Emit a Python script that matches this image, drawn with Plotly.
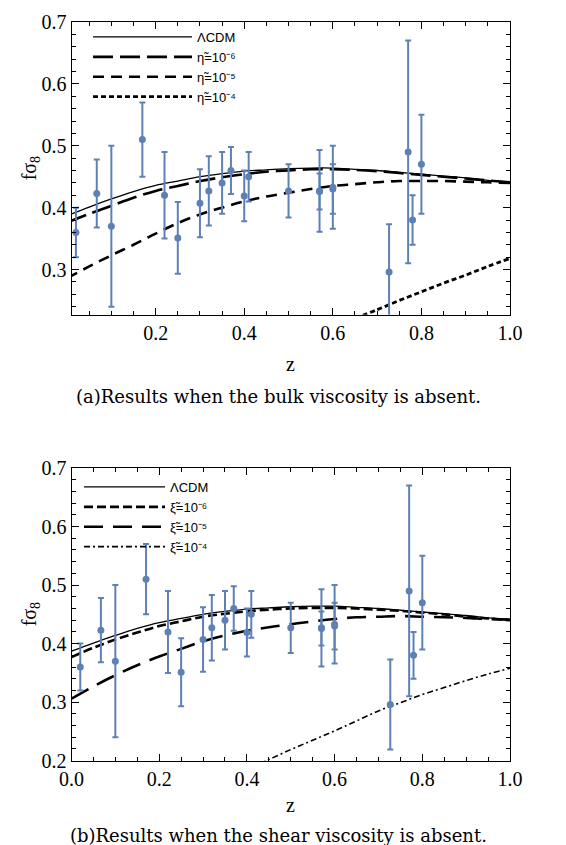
import plotly.graph_objects as go

# ---------------- data ----------------
obs_z = [0.02, 0.067, 0.10, 0.17, 0.22, 0.25, 0.30, 0.32, 0.35, 0.37, 0.40, 0.41,
         0.50, 0.57, 0.57, 0.60, 0.60, 0.727, 0.77, 0.78, 0.80]
obs_f = [0.360, 0.423, 0.370, 0.510, 0.420, 0.351, 0.407, 0.427, 0.440, 0.460, 0.419, 0.450,
         0.427, 0.427, 0.426, 0.433, 0.430, 0.296, 0.490, 0.380, 0.470]
obs_err = [0.040, 0.055, 0.130, 0.060, 0.070, 0.058, 0.055, 0.056, 0.050, 0.038, 0.041, 0.040,
           0.043, 0.066, 0.029, 0.067, 0.040, 0.077, 0.180, 0.040, 0.080]

z_grid = [0.0, 0.05, 0.10, 0.15, 0.20, 0.25, 0.30, 0.35, 0.40, 0.45, 0.50,
          0.55, 0.60, 0.65, 0.70, 0.75, 0.80, 0.85, 0.90, 0.95, 1.0]
lcdm = [0.387, 0.401, 0.414, 0.426, 0.436, 0.443, 0.450, 0.455, 0.459, 0.461, 0.463,
        0.464, 0.464, 0.462, 0.460, 0.457, 0.454, 0.451, 0.448, 0.444, 0.441]
# panel (a): shear viscosity eta
eta_1e6 = [0.376, 0.390, 0.403, 0.416, 0.427, 0.435, 0.443, 0.449, 0.454, 0.458, 0.460,
           0.462, 0.462, 0.461, 0.459, 0.456, 0.453, 0.450, 0.447, 0.444, 0.441]
eta_1e5 = [0.286, 0.305, 0.323, 0.340, 0.358, 0.375, 0.389, 0.400, 0.410, 0.418, 0.424,
           0.430, 0.435, 0.438, 0.441, 0.443, 0.443, 0.443, 0.442, 0.441, 0.440]
z_eta4 = [0.65, 0.70, 0.75, 0.80, 0.85, 0.90, 0.95, 1.0]
eta_1e4 = [0.221, 0.235, 0.250, 0.264, 0.278, 0.291, 0.305, 0.318]
# panel (b): bulk viscosity xi
xi_1e6 = [0.377, 0.393, 0.407, 0.419, 0.430, 0.438, 0.446, 0.451, 0.455, 0.458, 0.460,
          0.461, 0.461, 0.460, 0.458, 0.456, 0.453, 0.450, 0.446, 0.443, 0.440]
xi_1e5 = [0.306, 0.327, 0.346, 0.363, 0.378, 0.391, 0.404, 0.414, 0.422, 0.428, 0.433,
          0.438, 0.442, 0.445, 0.446, 0.447, 0.446, 0.445, 0.444, 0.442, 0.441]
z_xi4 = [0.40, 0.45, 0.50, 0.55, 0.60, 0.65, 0.70, 0.75, 0.80, 0.85, 0.90, 0.95, 1.0]
xi_1e4 = [0.185, 0.202, 0.219, 0.235, 0.251, 0.268, 0.285, 0.299, 0.313, 0.325, 0.337, 0.348, 0.358]

x_ticks_a = [0.2, 0.4, 0.6, 0.8, 1.0]
x_ticks_b = [0.0, 0.2, 0.4, 0.6, 0.8, 1.0]
y_ticks_a = [0.3, 0.4, 0.5, 0.6, 0.7]
y_ticks_b = [0.2, 0.3, 0.4, 0.5, 0.6, 0.7]

legend_a = ["ΛCDM", "η\u0303=10⁻⁶", "η\u0303=10⁻⁵", "η\u0303=10⁻⁴"]
legend_b = ["ΛCDM", "ξ\u0303=10⁻⁶", "ξ\u0303=10⁻⁵", "ξ\u0303=10⁻⁴"]

# ---------------- styling ----------------
PT = "#5E81B5"
W, H = 566, 845


def px(x):
    return x / W


def py(y):
    return 1 - y / H


X0, X1 = 63.5, 502
A_T, A_B = 14, 306.7
B_T, B_B = 460, 752.7
serif = "Liberation Serif"
sans = "Liberation Sans"

fig = go.Figure()


def curves(xa, ya, leg, names, specs, series):
    for name, (dash, w), (zz, vv) in zip(names, specs, series):
        fig.add_trace(go.Scatter(x=zz, y=vv, mode="lines", name=name,
                                 line=dict(color="black", width=w, dash=dash, shape="spline"),
                                 xaxis=xa, yaxis=ya, legend=leg, hoverinfo="skip"))


def points(xa, ya):
    fig.add_trace(go.Scatter(x=obs_z, y=obs_f, mode="markers", showlegend=False,
                             marker=dict(color=PT, size=7),
                             error_y=dict(type="data", array=obs_err, color=PT, thickness=2, width=3),
                             xaxis=xa, yaxis=ya))


# panel (a)
curves("x", "y", "legend", legend_a,
       [("solid", 1.3), ("20px,7px", 2.6), ("11px,7px", 2.6), ("5px,3px", 2.8)],
       [(z_grid, lcdm), (z_grid, eta_1e6), (z_grid, eta_1e5), (z_eta4, eta_1e4)])
points("x", "y")
# panel (b)
curves("x2", "y2", "legend2", legend_b,
       [("solid", 1.3), ("9px,4px", 2.6), ("19px,10px", 2.6), ("6px,3px,2px,3px", 1.6)],
       [(z_grid, lcdm), (z_grid, xi_1e6), (z_grid, xi_1e5), (z_xi4, xi_1e4)])
points("x2", "y2")


def ax_common():
    return dict(showline=True, linecolor="black", linewidth=1, mirror="allticks",
                ticks="inside", ticklen=7, tickwidth=1, tickcolor="black",
                showgrid=False, zeroline=False,
                tickfont=dict(family=serif, size=20, color="black"))


xd = [px(X0), px(X1)]
fig.update_layout(
    width=W, height=H, margin=dict(l=0, r=0, t=0, b=0, autoexpand=False),
    paper_bgcolor="white", plot_bgcolor="white",
    xaxis=dict(domain=xd, range=[0.01, 1.0], anchor="y",
               tickvals=x_ticks_a, ticktext=[f"{v:.1f}" for v in x_ticks_a],
               minor=dict(dtick=0.05, tick0=0, ticks="inside", ticklen=4, tickcolor="black"),
               **ax_common()),
    yaxis=dict(domain=[py(A_B), py(A_T)], range=[0.227, 0.7], anchor="x",
               tickvals=y_ticks_a, ticktext=[f"{v:.1f}" for v in y_ticks_a],
               minor=dict(dtick=0.02, tick0=0, ticks="inside", ticklen=4, tickcolor="black"),
               **ax_common()),
    xaxis2=dict(domain=xd, range=[0.0, 1.0], anchor="y2",
                tickvals=x_ticks_b, ticktext=[f"{v:.1f}" for v in x_ticks_b],
                minor=dict(dtick=0.05, tick0=0, ticks="inside", ticklen=4, tickcolor="black"),
                **ax_common()),
    yaxis2=dict(domain=[py(B_B), py(B_T)], range=[0.2, 0.7], anchor="x2",
                tickvals=y_ticks_b, ticktext=[f"{v:.1f}" for v in y_ticks_b],
                minor=dict(dtick=0.02, tick0=0, ticks="inside", ticklen=4, tickcolor="black"),
                **ax_common()),
    legend=dict(x=px(80), y=py(14), xanchor="left", yanchor="top",
                bgcolor="rgba(0,0,0,0)", itemwidth=99, tracegroupgap=0,
                font=dict(family=sans, size=13, color="black")),
    legend2=dict(x=px(71), y=py(464), xanchor="left", yanchor="top",
                 bgcolor="rgba(0,0,0,0)", itemwidth=81, tracegroupgap=0,
                 font=dict(family=sans, size=13, color="black")),
)

ann = []


def label(x, y, text, size=20, angle=0, family=serif):
    ann.append(dict(x=px(x), y=py(y), xref="paper", yref="paper", text=text,
                    showarrow=False, textangle=angle, xanchor="center", yanchor="middle",
                    font=dict(family=family, size=size, color="black")))


label(22, (A_T + A_B) / 2, "fσ<sub>8</sub>", angle=-90)
label(22, (B_T + B_B) / 2, "fσ<sub>8</sub>", angle=-90)
label((X0 + X1) / 2, 356, "z")
label((X0 + X1) / 2, 797, "z")
label(270, 389, "(a)Results when the bulk viscosity is absent.", size=18, family="DejaVu Serif")
label(270, 827, "(b)Results when the shear viscosity is absent.", size=18, family="DejaVu Serif")
fig.update_layout(annotations=ann)

fig.write_html("out.html")
